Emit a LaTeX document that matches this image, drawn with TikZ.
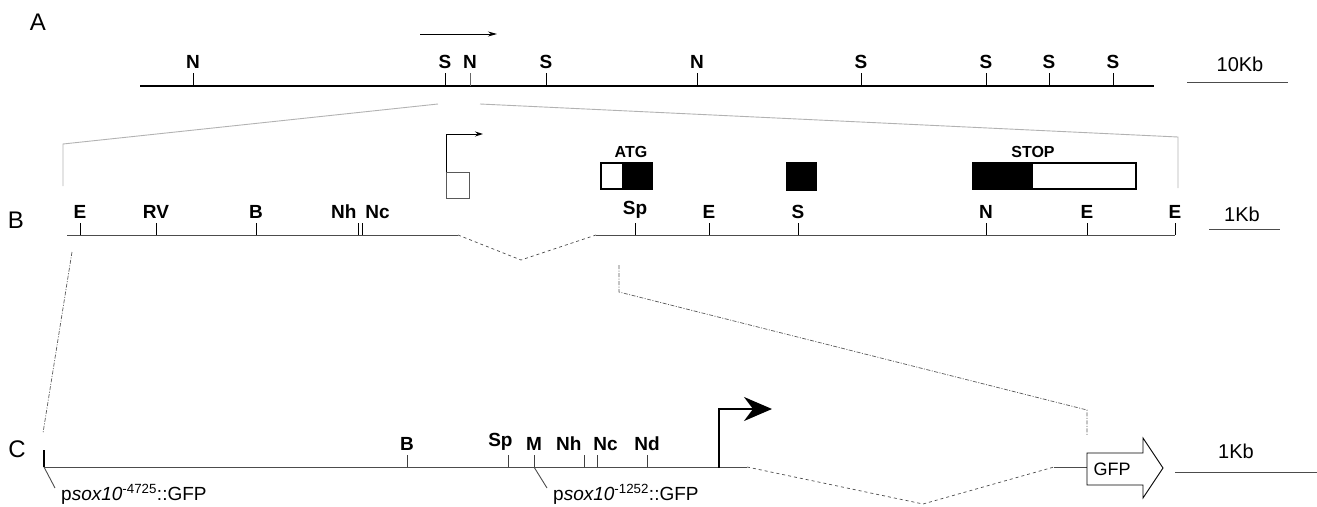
\documentclass[tikz,border=0pt]{standalone}
\usepackage{fontspec}
\setmainfont{Liberation Sans}
\usetikzlibrary{arrows.meta,positioning}

\begin{document}
\begin{tikzpicture}[x=1pt,y=-1pt,
    genome/.style={draw=black,line width=1.8pt},
    dna/.style={draw=black!70,line width=0.9pt},
    cut/.style={draw=black,line width=0.9pt},
    site/.style={font=\fontsize{19}{19}\selectfont\bfseries,inner sep=0pt,above=4pt},
    zoomin/.style={draw=black!30,line width=0.9pt},
    gap/.style={draw=black!70,dashed,line width=0.7pt},
    proj/.style={draw=black!65,dash pattern=on 4pt off 1.5pt on 1pt off 1.5pt,line width=0.7pt},
    panel/.style={font=\fontsize{24}{24}\selectfont,inner sep=0pt},
    kb/.style={font=\fontsize{20}{20}\selectfont,inner sep=0pt},
    scalebar/.style={draw=black!70,line width=0.9pt},
    exon/.style={draw=black,line width=1.2pt},
    exonlabel/.style={font=\fontsize{16}{16}\selectfont\bfseries,inner sep=0pt},
    construct/.style={font=\fontsize{19}{19}\selectfont,inner sep=0pt,anchor=base west},
    ]
\useasboundingbox (0,0) rectangle (1317,506);

    %% A: genomic locus
    \node[panel] (labA) at (38,22) {A};
    \draw[genome] (140,86) coordinate (a0) -- (1154,86) coordinate (a1);
    \foreach \x/\n [count=\i] in {193/N,445/S,546/S,697/N,861/S,986/S,1049/S,1113/S}
        \draw[cut] (\x,86) -- ++(0,-13) node[site] (sitA\i) {\n};
    % the second N is drawn thinner
    \draw[draw=black!60,line width=0.6pt] (470,86) -- ++(0,-13) node[site] (sitAN) {N};
    \coordinate (dirA0) at (420,34);
    \coordinate (dirA1) at (497,34);
    \draw[-{Stealth[length=9pt,width=5pt]},line width=0.9pt] (dirA0) -- (dirA1);
    \node[kb] (kbA) at (1240,64) {10Kb};
    \draw[scalebar] (1187,82) coordinate (sbA0) -- (1288,82) coordinate (sbA1);

    % zoom from A to B
    \coordinate (zA0) at (438,104);
    \coordinate (zA1) at (480,104);
    \coordinate (zB0) at (63,144);
    \coordinate (zB1) at (1178,137);
    \draw[zoomin] (zA0) -- (zB0) -- ++(0,42);
    \draw[zoomin] (zA1) -- (zB1) -- ++(0,51);

    %% B: sox10 gene
    \node[panel] (labB) at (16,220) {B};
    \draw[dna] (67,235) coordinate (b0) -- (458,235) coordinate (b1);
    \draw[gap] (b1) -- (521,260) -- (596,235) coordinate (b2);
    \draw[dna] (b2) -- (1175,235) coordinate (b3);
    \foreach \x/\n [count=\i] in {80/E,156/RV,256/B,635/Sp,709/E,798/S,986/N,1087/E,1175/E}
        \draw[cut] (\x,235) -- ++(0,-12) node[site] (sitB\i) {\n};
    \draw[cut] (358,235) -- ++(0,-12) node[site,anchor=south east,xshift=-1pt] (sitBNh) {Nh};
    \draw[cut] (362,235) -- ++(0,-12) node[site,anchor=south west,xshift=3pt] (sitBNc) {Nc};

    % promoter
    \draw[dna,draw=black!65] (446,172) rectangle (469,198);
    \draw[dna,draw=black!65,-{Stealth[length=8pt,width=5pt]},draw=black] (446,172) -- (446,134) -- (483,134);

    % exons
    \draw[exon,fill=white] (601,163) rectangle (623,189);
    \draw[exon,fill=black] (623,163) rectangle (652,189);
    \node[exonlabel] (atg) at (631,152) {ATG};
    \draw[exon,fill=black] (787,163) rectangle (816,190);
    \draw[exon,fill=black] (973,163) rectangle (1032,189);
    \draw[exon,fill=white] (1032,163) rectangle (1136,189);
    \node[exonlabel] (stop) at (1033,152) {STOP};

    \node[kb] (kbB) at (1242,214) {1Kb};
    \draw[scalebar] (1209,229) coordinate (sbB0) -- (1280,229) coordinate (sbB1);

    % projection from B to C
    \coordinate (pB0) at (72,252);
    \coordinate (pC0) at (43,433);
    \coordinate (pB1) at (619,265);
    \coordinate (pC1) at (1087,435);
    \draw[proj] (pB0) -- (pC0);
    \draw[proj] (pB1) -- (619,292) -- (1087,410) -- (pC1);

    %% C: reporter constructs
    \node[panel] (labC) at (17,449) {C};
    \draw[dna] (44,467) coordinate (c0) -- (747,467) coordinate (c1);
    \draw[line width=2pt] (c0) -- ++(0,-17);
    \draw[gap] (c1) -- (923,504) -- (1054,467) coordinate (c2);
    \foreach \x/\n [count=\i] in {407/B,534/M,647/Nd}
        \draw[cut,draw=black!75] (\x,467) -- ++(0,-12) node[site] (sitC\i) {\n};
    \draw[cut,draw=black!75] (508,467) -- ++(0,-12) node[site,anchor=south east,xshift=5pt] (sitCSp) {Sp};
    \draw[cut,draw=black!75] (584,467) -- ++(0,-12) node[site,anchor=south east,xshift=-2pt] (sitCNh) {Nh};
    \draw[cut,draw=black!75] (597,467) -- ++(0,-12) node[site,anchor=south west,xshift=-4pt] (sitCNc) {Nc};

    % transcription start
    \draw[line width=2.2pt,-{Stealth[length=28pt,width=24pt,inset=9pt]}] (719,468) -- (719,409) -- (772,409);

    % GFP
    \coordinate (gfptail) at (1087,467);
    \draw[dna] (c2) -- (gfptail);
    \draw[line width=0.9pt,fill=white] (1087,453) -- (1143,453) -- (1143,438) -- (1163,468)
        -- (1143,498) -- (1143,485) -- (1087,485) -- cycle;
    \node[kb,font=\fontsize{18}{18}\selectfont] (gfp) at (1112,469) {GFP};

    \node[kb] (kbC) at (1236,451) {1Kb};
    \draw[scalebar] (1175,472) coordinate (sbC0) -- (1317,472) coordinate (sbC1);

    % construct names
    \node[construct] (long) at (61,500) {p\textit{sox10}\textsuperscript{-4725}::GFP};
    \node[construct] (short) at (553,500) {p\textit{sox10}\textsuperscript{-1252}::GFP};
    \draw[dna] (c0) -- (55,488);
    \draw[dna] (534,467) -- (547,488);
\end{tikzpicture}
\end{document}
